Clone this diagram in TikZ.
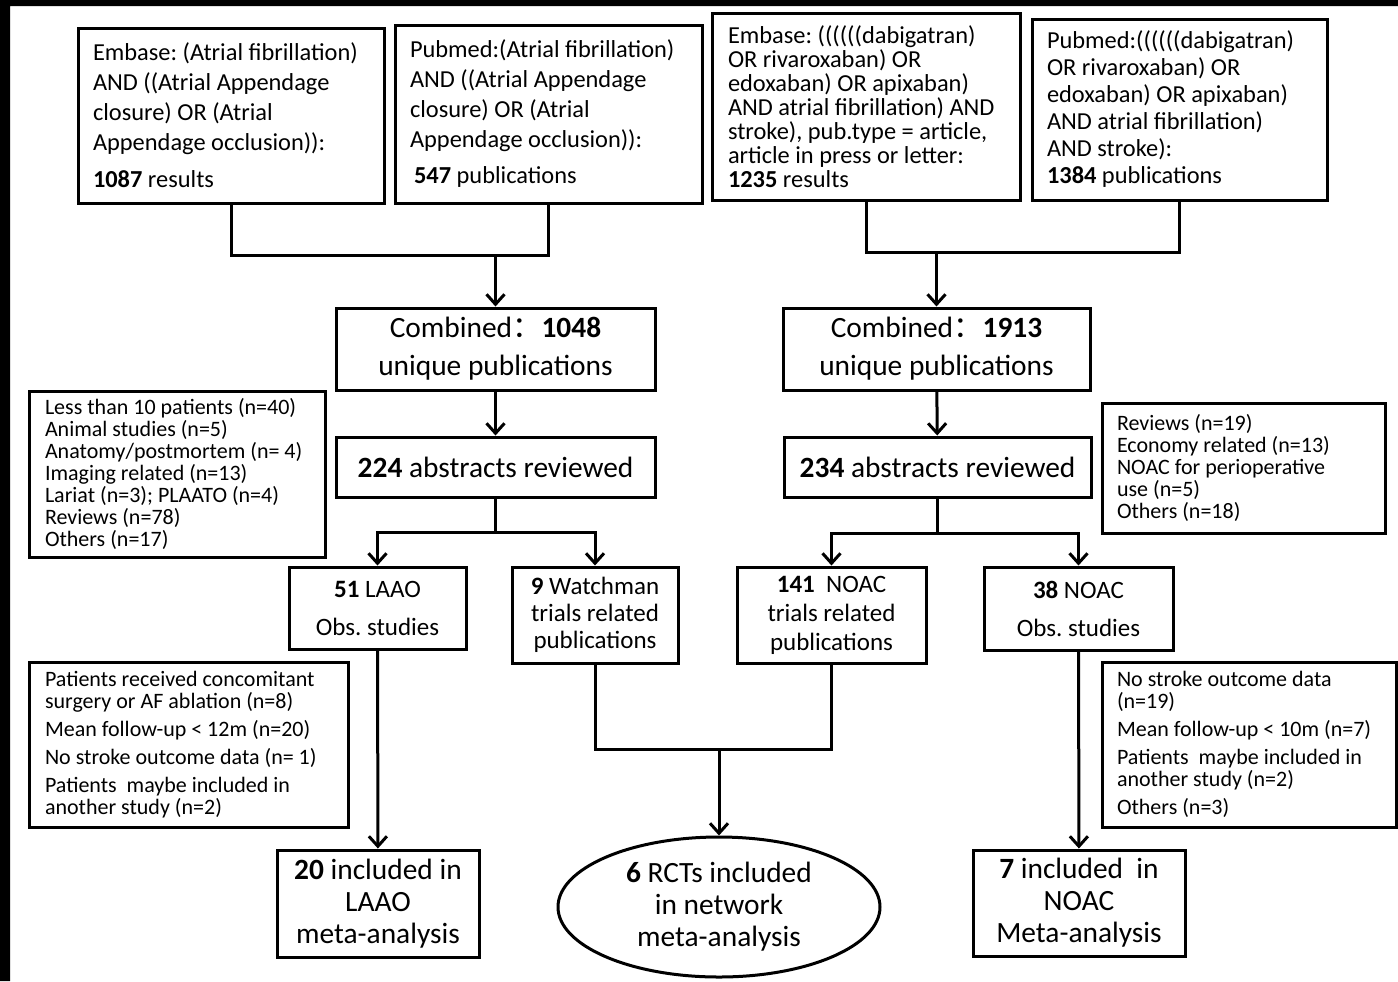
\documentclass[tikz,border=0pt]{standalone}
\usepackage{fontspec}
\setmainfont{Carlito}
\newfontfamily\cjk{Noto Sans CJK SC}
\frenchspacing
\usetikzlibrary{arrows.meta,shapes.geometric}

\begin{document}
\begin{tikzpicture}[x=0.5pt,y=-0.5pt,line width=1.5pt,
    box/.style={draw,rectangle,inner sep=0pt,align=center},
    qbox/.style={box,align=flush left,inner xsep=7.5pt,text width=#1},
    arr/.style={-{Straight Barb[length=5pt,width=9pt]}},
    small/.style={font=\fontsize{11}{11}\selectfont},
    mid/.style={font=\fontsize{12.5}{#1}\selectfont},
    big/.style={font=\fontsize{14.7}{#1}\selectfont}]
\useasboundingbox (0,0) rectangle (1398,981);
\fill (0,0) rectangle (1398,6) (0,0) rectangle (10,981);
% search boxes
\node[qbox=138pt,minimum height=87.5pt,font=\fontsize{12.2}{15}\selectfont] (embL) at (231,115.5) {Embase: (Atrial fibrillation)\\AND ((Atrial Appendage\\closure) OR (Atrial\\Appendage occlusion)):\\[3.5pt]\textbf{1087} results};
\node[qbox=138.5pt,minimum height=89pt,font=\fontsize{12.2}{15}\selectfont] (pubL) at (548.5,114) {Pubmed:(Atrial fibrillation)\\AND ((Atrial Appendage\\closure) OR (Atrial\\Appendage occlusion)):\\[3pt]\,\textbf{547} publications};
\node[qbox=138pt,inner xsep=8pt,minimum height=93.5pt,font=\fontsize{12.2}{12}\selectfont] (embR) at (866,106.5) {Embase: ((((((dabigatran)\\OR rivaroxaban) OR\\edoxaban) OR apixaban)\\AND atrial fibrillation) AND\\stroke), pub.type = article,\\article in press or letter:\\\textbf{1235} results};
\node[qbox=132.5pt,minimum height=90.5pt,font=\fontsize{12.2}{13.5}\selectfont] (pubR) at (1179.5,109.5) {Pubmed:((((((dabigatran)\\OR rivaroxaban) OR\\edoxaban) OR apixaban)\\AND atrial fibrillation)\\AND stroke):\\\textbf{1384} publications};
% combined
\node[box,big=19,minimum width=159.5pt,minimum height=41pt] (combL) at (495.5,349) {Combined{\cjk ：}\textbf{1048}\\unique publications};
\node[box,big=19,minimum width=153.5pt,minimum height=41pt] (combR) at (936.5,349) {Combined{\cjk ：}\textbf{1913}\\unique publications};
\node[box,big=19,minimum width=159.5pt,minimum height=30pt] (absL) at (495.5,467) {\textbf{224} abstracts reviewed};
\node[box,big=19,minimum width=153.5pt,minimum height=30pt] (absR) at (937.5,467) {\textbf{234} abstracts reviewed};
% exclusions
\node[qbox=132pt,small,inner xsep=8pt,minimum height=83pt] (excL1) at (177,474) {Less than 10 patients (n=40)\\Animal studies (n=5)\\Anatomy/postmortem (n= 4)\\Imaging related (n=13)\\Lariat (n=3); PLAATO (n=4)\\Reviews (n=78)\\Others (n=17)};
\node[qbox=126.5pt,small,minimum height=65pt] (excR1) at (1243.5,468) {Reviews (n=19)\\Economy related (n=13)\\NOAC for perioperative\\use (n=5)\\Others (n=18)};
\node[qbox=143.5pt,small,inner xsep=8pt,minimum height=82.5pt] (excL2) at (188.5,744.5) {Patients received concomitant\\surgery or AF ablation (n=8)\\[3pt]Mean follow-up < 12m (n=20)\\[3pt]No stroke outcome data (n= 1)\\[3pt]Patients\ \ maybe included in\\another study (n=2)};
\node[qbox=132pt,small,minimum height=82.5pt] (excR2) at (1249,744.5) {No stroke outcome data\\(n=19)\\[3pt]Mean follow-up < 10m (n=7)\\[3pt]Patients\ \ maybe included in\\another study (n=2)\\[3pt]Others (n=3)};
% study types
\node[box,mid=19,minimum width=88.5pt,minimum height=41pt] (laao) at (377.5,608) {\textbf{51} LAAO\\Obs. studies};
\node[box,mid=13.5,minimum width=83pt,minimum height=48pt] (watch) at (595,615) {\textbf{9} Watchman\\trials related\\publications};
\node[box,mid=14.5,minimum width=94.5pt,minimum height=48pt] (trials) at (831.5,615) {\textbf{141}\ \ NOAC\\trials related\\publications};
\node[box,mid=19,minimum width=94.5pt,minimum height=41.5pt] (obs) at (1078.5,608.5) {\textbf{38} NOAC\\Obs. studies};
% results
\node[box,big=16,minimum width=101pt,minimum height=53.5pt] (inclL) at (378,903.5) {\textbf{20} included in\\LAAO\\meta-analysis};
\node[box,big=16,minimum width=106pt,minimum height=53pt] (inclR) at (1079,903) {\textbf{7} included\ \ in\\NOAC\\Meta-analysis};
\node[draw,ellipse,inner sep=0pt,minimum width=161pt,minimum height=70pt,align=center,big=16] (rct) at (719,907) {\textbf{6} RCTs included\\in network\\meta-analysis};
% connectors
\path (495.5,255)coordinate(jL) (936.5,252)coordinate(jR) (495.5,532)coordinate(sL) (937.5,533)coordinate(sR) (719,749)coordinate(jM);
\draw (embL.south) |- (jL) -| (pubL.south);
\draw (embR.south) |- (jR) -| (pubR.south);
\draw[arr] (jL) -- (combL);
\draw[arr] (jR) -- (combR);
\draw[arr] (combL) -- (absL);
\draw[arr] (combR) -- (absR);
\draw (absL) -- (sL) (absR) -- (sR);
\draw[arr] (sL) -| (laao);
\draw[arr] (sL) -| (watch);
\draw[arr] (sR) -| (trials);
\draw[arr] (sR) -| (obs);
\draw (watch.south) |- (jM) -| (trials.south);
\draw[arr] (jM) -- (rct);
\draw[arr] (laao) -- (inclL);
\draw[arr] (obs) -- (inclR);
\end{tikzpicture}
\end{document}
